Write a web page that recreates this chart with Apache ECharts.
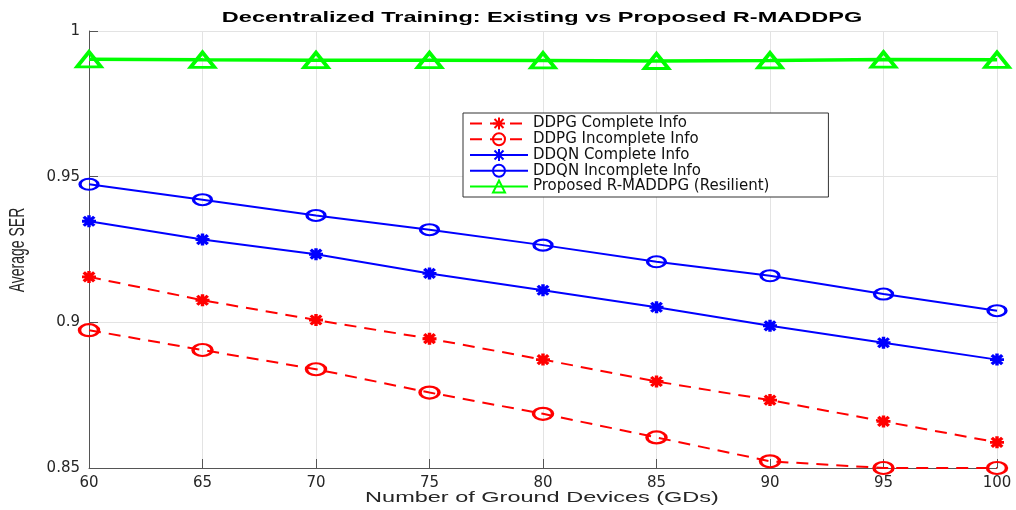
<!DOCTYPE html>
<html>
<head>
<meta charset="utf-8">
<script src="https://cdn.jsdelivr.net/npm/echarts@6/dist/echarts.min.js"></script>
<style>
html,body{margin:0;padding:0;background:#fff;}
#chart{width:1016px;height:510px;}
</style>
</head>
<body>
<div id="chart"></div>
<script>
// ---- data ----
const gds = [60, 65, 70, 75, 80, 85, 90, 95, 100];
const ddpgComplete   = [0.9156, 0.9076, 0.9008, 0.8944, 0.8872, 0.8797, 0.8733, 0.8660, 0.8588];
const ddpgIncomplete = [0.8973, 0.8905, 0.8839, 0.8759, 0.8686, 0.8605, 0.8523, 0.8500, 0.8500];
const ddqnComplete   = [0.9347, 0.9284, 0.9234, 0.9168, 0.9110, 0.9052, 0.8988, 0.8930, 0.8872];
const ddqnIncomplete = [0.9474, 0.9421, 0.9367, 0.9318, 0.9265, 0.9208, 0.9160, 0.9097, 0.9040];
const proposed       = [0.9903, 0.9901, 0.9900, 0.9900, 0.9899, 0.9897, 0.9899, 0.9902, 0.9901];
const seriesNames = ['DDPG Complete Info', 'DDPG Incomplete Info', 'DDQN Complete Info', 'DDQN Incomplete Info', 'Proposed R-MADDPG (Resilient)'];
const titleText = 'Decentralized Training: Existing vs Proposed R-MADDPG';
const xName = 'Number of Ground Devices (GDs)';
const yName = 'Average SER';

const pair = arr => gds.map((g, i) => [g, arr[i]]);
const STAR = 'path://M0,-10L0,10M-10,0L10,0M-7.5,-7.5L7.5,7.5M-7.5,7.5L7.5,-7.5';
const CLEAR = 'rgba(0,0,0,0)';
const RED = '#ff0000', BLUE = '#0000ff', GREEN = '#00ff00';

const chart = echarts.init(document.getElementById('chart'), null, {renderer: 'canvas'});
chart.setOption({
  backgroundColor: '#ffffff',
  animation: false,
  grid: {left: 89, right: 19, top: 31, bottom: 42, containLabel: false},
  xAxis: {
    type: 'value', min: 60, max: 100, interval: 5,
    axisLine: {show: true, onZero: false, lineStyle: {color: '#555', width: 1}},
    axisTick: {show: true, inside: true, length: 9, lineStyle: {color: '#555'}},
    axisLabel: {color: '#262626', fontFamily: 'DejaVu Sans', fontSize: 15, margin: 8},
    splitLine: {show: true, lineStyle: {color: '#e3e3e3', width: 1}}
  },
  yAxis: {
    type: 'value', min: 0.85, max: 1, interval: 0.05,
    axisLine: {show: true, onZero: false, lineStyle: {color: '#555', width: 1}},
    axisTick: {show: true, inside: true, length: 9, lineStyle: {color: '#555'}},
    axisLabel: {color: '#262626', fontFamily: 'DejaVu Sans', fontSize: 15, margin: 9},
    splitLine: {show: true, lineStyle: {color: '#e3e3e3', width: 1}}
  },
  legend: {
    orient: 'vertical', left: 463, top: 113,
    backgroundColor: '#fff', borderColor: '#333', borderWidth: 1,
    padding: [3, 59, 3, 6],
    itemWidth: 58, itemHeight: 15, itemGap: 0.75,
    textStyle: {color: '#111', fontFamily: 'DejaVu Sans', fontSize: 15, lineHeight: 15},
    data: seriesNames
  },
  graphic: [
    {type: 'text', x: 542, y: 18, scaleX: 1.68, silent: true,
     style: {text: titleText, font: 'bold 14px "Liberation Sans", Arial, sans-serif', fill: '#000', align: 'center', verticalAlign: 'middle'}},
    {type: 'text', x: 542, y: 498, scaleX: 1.62, silent: true,
     style: {text: xName, font: '14.5px "Liberation Sans", Arial, sans-serif', fill: '#262626', align: 'center', verticalAlign: 'middle'}},
    {type: 'text', x: 18, y: 250, rotation: Math.PI / 2, scaleY: 1.6, silent: true,
     style: {text: yName, font: '14px "Liberation Sans", Arial, sans-serif', fill: '#262626', align: 'center', verticalAlign: 'middle'}}
  ],
  series: [
    {name: seriesNames[0], type: 'line', data: pair(ddpgComplete), clip: false,
     symbol: STAR, symbolSize: [14, 12],
     lineStyle: {color: RED, width: 2, type: [12, 8]},
     itemStyle: {color: RED, borderColor: RED, borderWidth: 3.2}, z: 3},
    {name: seriesNames[1], type: 'line', data: pair(ddpgIncomplete), clip: false,
     symbol: 'circle', symbolSize: [19, 12],
     lineStyle: {color: RED, width: 2, type: [12, 8]},
     itemStyle: {color: CLEAR, borderColor: RED, borderWidth: 2.8}, z: 3},
    {name: seriesNames[2], type: 'line', data: pair(ddqnComplete), clip: false,
     symbol: STAR, symbolSize: [14, 12],
     lineStyle: {color: BLUE, width: 2},
     itemStyle: {color: BLUE, borderColor: BLUE, borderWidth: 3.2}, z: 3},
    {name: seriesNames[3], type: 'line', data: pair(ddqnIncomplete), clip: false,
     symbol: 'circle', symbolSize: [18, 11],
     lineStyle: {color: BLUE, width: 2},
     itemStyle: {color: CLEAR, borderColor: BLUE, borderWidth: 2.6}, z: 3},
    {name: seriesNames[4], type: 'line', data: pair(proposed), clip: false,
     symbol: 'triangle', symbolSize: [24, 15],
     lineStyle: {color: GREEN, width: 3.5},
     itemStyle: {color: CLEAR, borderColor: GREEN, borderWidth: 3.5}, z: 3}
  ]
});
</script>
</body>
</html>
